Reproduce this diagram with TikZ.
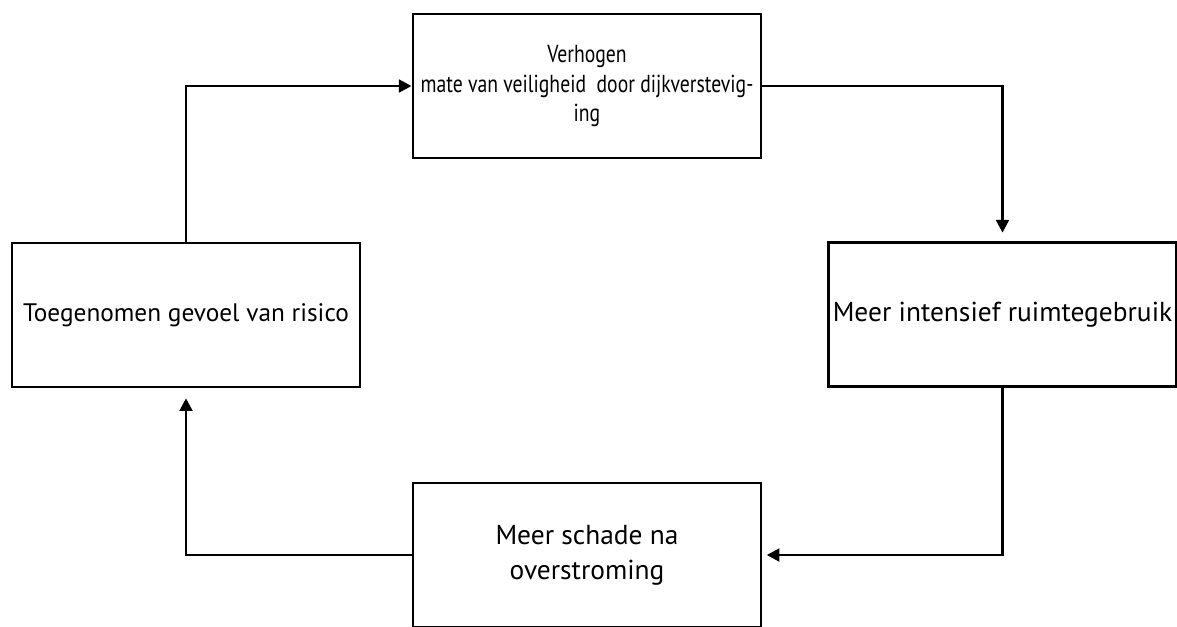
\documentclass[tikz,border=0pt]{standalone}
\usepackage{fontspec}
\setmainfont{PT Sans}
\newfontfamily\smalfont[FakeStretch=0.8]{PT Sans}
\usetikzlibrary{arrows.meta}
\tikzset{
  blok/.style={draw, line width=2pt, minimum width=8.7cm, minimum height=3.6cm, inner sep=0pt, align=center},
  pijl/.style={line width=2pt, -{Triangle[length=9pt,width=9pt]}}
}
\begin{document}
\begin{tikzpicture}[x=0.025cm, y=-0.025cm]
\clip (0,0) rectangle (1177,626);
\node[blok, font={\smalfont\fontsize{17.5}{21}\selectfont}] (verhogen) at (587,86) {Verhogen\\ mate van veiligheid\ \ door dijkverstevig-\\ ing};
\node[blok, font={\fontsize{19.5}{20}\selectfont}] (ruimte) at (1002.5,314.5) {Meer intensief ruimtegebruik};
\node[blok, font={\fontsize{19.5}{25}\selectfont}] (schade) at (587,555) {Meer schade na\\ overstroming};
\node[blok, font={\fontsize{18}{20}\selectfont}] (risico) at (186,315) {Toegenomen gevoel van risico};
% verbindingen
\draw[pijl] (risico.north) |- (verhogen.west);
\draw[pijl, shorten >=6pt] (verhogen.east) -| (ruimte.north);
\draw[pijl, shorten >=3pt] (ruimte.south) |- (schade.east);
\draw[pijl, shorten >=7pt] (schade.west) -| (risico.south);
\end{tikzpicture}
\end{document}
